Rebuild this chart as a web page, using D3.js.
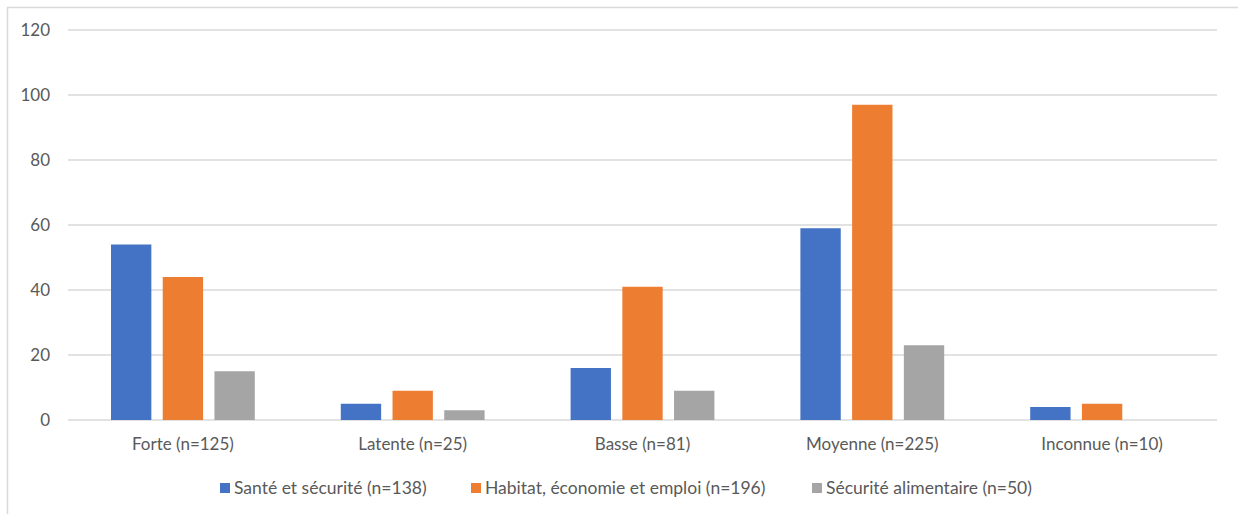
<!DOCTYPE html>
<html>
<head>
<meta charset="utf-8">
<script src="https://cdn.jsdelivr.net/npm/d3@7"></script>
<style>
  body { margin: 0; background: #fff; }
  text { font-family: Lato, "Open Sans", sans-serif; fill: #595959; }
</style>
</head>
<body>
<svg id="chart" width="1238" height="514"></svg>
<script>
var categories = ['Forte (n=125)', 'Latente (n=25)', 'Basse (n=81)', 'Moyenne (n=225)', 'Inconnue (n=10)'];
var seriesNames = ['Santé et sécurité (n=138)', 'Habitat, économie et emploi (n=196)', 'Sécurité alimentaire (n=50)'];
var sante = [54, 5, 16, 59, 4];
var habitat = [44, 9, 41, 97, 5];
var alimentaire = [15, 3, 9, 23, 0];
var yTicks = [0, 20, 40, 60, 80, 100, 120];
var colors = ['#4472C4', '#ED7D31', '#A5A5A5'];

var series = [sante, habitat, alimentaire];

var svg = d3.select('#chart');

// outer frame (right and bottom edges run off the picture)
svg.append('rect')
  .attr('x', 7.5).attr('y', 7.5)
  .attr('width', 1300).attr('height', 600)
  .attr('fill', 'none')
  .attr('stroke', '#d9d9d9')
  .attr('stroke-width', 1.5);

var plotLeft = 68, plotRight = 1217, plotTop = 30, plotBottom = 420;

var y = d3.scaleLinear().domain([0, 120]).range([plotBottom, plotTop]);
var x0 = d3.scaleBand().domain(categories).range([plotLeft, plotRight]).paddingInner(0).paddingOuter(0);
var x1 = d3.scaleBand().domain([0, 1, 2]).range([43, x0.bandwidth() - 43]).paddingInner(0.22);

// grid
svg.append('g').selectAll('line')
  .data(yTicks)
  .enter().append('line')
  .attr('x1', plotLeft).attr('x2', plotRight)
  .attr('y1', function(d) { return y(d); })
  .attr('y2', function(d) { return y(d); })
  .attr('stroke', '#d9d9d9')
  .attr('stroke-width', 1.3);

// y axis labels
var yAxis = d3.axisLeft(y).tickValues(yTicks).tickSize(0).tickPadding(0);
var ya = svg.append('g').attr('transform', 'translate(50,0)').call(yAxis);
ya.select('.domain').remove();
ya.selectAll('text').style('font-size', '17px').attr('fill', '#595959')
  .style('font-family', 'Lato, "Open Sans", sans-serif');

// bars
var groups = svg.append('g').selectAll('g')
  .data(categories)
  .enter().append('g')
  .attr('transform', function(d) { return 'translate(' + x0(d) + ',0)'; });

groups.selectAll('rect')
  .data(function(d, i) { return series.map(function(s, j) { return { s: j, v: s[i] }; }); })
  .enter().append('rect')
  .filter(function(d) { return d.v > 0; })
  .attr('x', function(d) { return x1(d.s); })
  .attr('width', x1.bandwidth())
  .attr('y', function(d) { return y(d.v); })
  .attr('height', function(d) { return plotBottom - y(d.v); })
  .attr('fill', function(d) { return colors[d.s]; });

// category labels
var xAxis = d3.axisBottom(x0).tickSize(0).tickPadding(18);
var xa = svg.append('g').attr('transform', 'translate(0,' + plotBottom + ')').call(xAxis);
xa.select('.domain').remove();
xa.selectAll('text').style('font-size', '17px').attr('fill', '#595959')
  .style('font-family', 'Lato, "Open Sans", sans-serif');

// legend
var legendX = [220, 471, 812];
var legend = svg.append('g').selectAll('g')
  .data(seriesNames)
  .enter().append('g')
  .attr('transform', function(d, i) { return 'translate(' + legendX[i] + ',483)'; });

legend.append('rect')
  .attr('width', 10).attr('height', 10)
  .attr('fill', function(d, i) { return colors[i]; });

legend.append('text')
  .attr('x', 14).attr('y', 11)
  .style('font-size', '17.5px')
  .text(function(d) { return d; });
</script>
</body>
</html>
